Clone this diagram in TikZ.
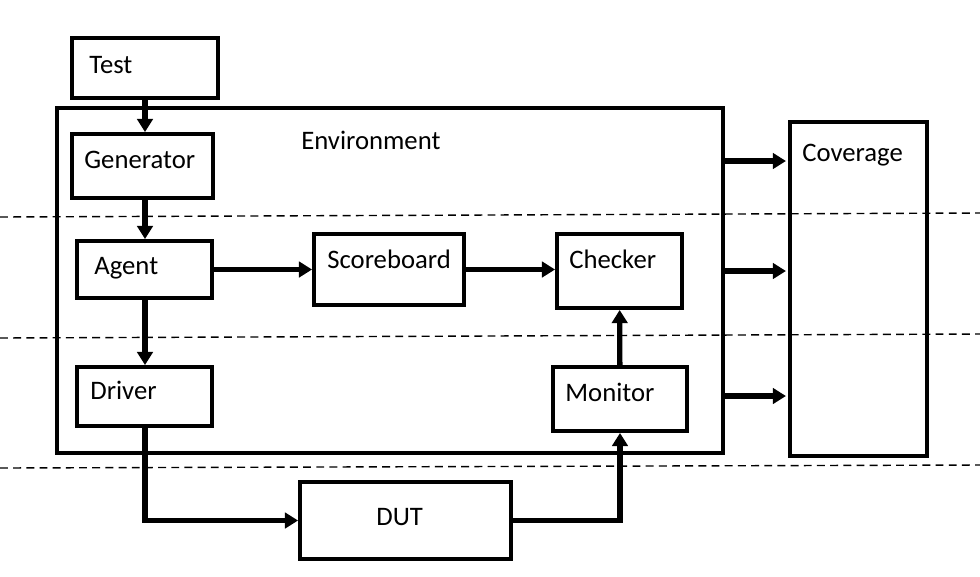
\documentclass[tikz,border=0pt]{standalone}
\usepackage{fontspec}
\setmainfont{Carlito}
\usetikzlibrary{arrows.meta,fit}

\begin{document}
\begin{tikzpicture}[x=0.02cm,y=-0.02cm,inner sep=0pt,
  box/.style={draw,line width=2.2pt,fit={#1}},
  arr/.style={line width=3pt,-{Triangle[length=7.5pt,width=8.8pt]}},
  lane/.style={line width=0.8pt,dash pattern=on 4.5pt off 3pt},
  lbl/.style={anchor=base west,font=\fontsize{15.2}{18}\selectfont}]

\useasboundingbox (0,0) rectangle (980,576);

\draw[lane] (0,217) -- (980,213);
\draw[lane] (0,338) -- (980,334);
\draw[lane] (0,468) -- (980,465);

\node[box={(72,38) (218,98)}] (test) {};
\node[box={(57,108) (723,453)}] (env) {};
\node[box={(72,134) (213,198)}] (gen) {};
\node[box={(77,241) (212,298)}] (agent) {};
\node[box={(314,234) (464,305)}] (score) {};
\node[box={(557,234) (682,308)}] (check) {};
\node[box={(77,367) (212,426)}] (drv) {};
\node[box={(553,367) (687,431)}] (mon) {};
\node[box={(300,482) (511,559)}] (dut) {};
\node[box={(790,122) (927,456)}] (cov) {};

\node[lbl] (testtxt) at (89,73) {Test};
\node[lbl] (envtxt) at (301,149) {Environment};
\node[lbl] (gentxt) at (84,168) {Generator};
\node[lbl] (agenttxt) at (94,274) {Agent};
\node[lbl] (scoretxt) at (327,268) {Scoreboard};
\node[lbl] (checktxt) at (569,268) {Checker};
\node[lbl] (drvtxt) at (90,399) {Driver};
\node[lbl] (montxt) at (565,401) {Monitor};
\node[lbl] (duttxt) at (376,525) {DUT};
\node[lbl] (covtxt) at (802,161) {Coverage};

\draw[arr] (test.south -| 145,0) -- (gen.north -| 145,0);
\draw[arr] (gen.south -| 145,0) -- (agent.north -| 145,0);
\draw[arr] (agent.south -| 145,0) -- (drv.north -| 145,0);
\draw[arr] (agent) -- (score);
\draw[arr] (score.east) -- (score.east -| check.west);
\draw[arr] (drv.south -| 145,0) |- (dut.west);
\draw[arr] (dut.east) -| (mon.south);
\draw[arr] (mon) -- (check);

\foreach \y [count=\i] in {161,271,396}{
  \coordinate (lvl\i) at (0,\y);
  \draw[arr,shorten >=1.2pt] (env.east |- lvl\i) -- (cov.west |- lvl\i);
}

\end{tikzpicture}
\end{document}
